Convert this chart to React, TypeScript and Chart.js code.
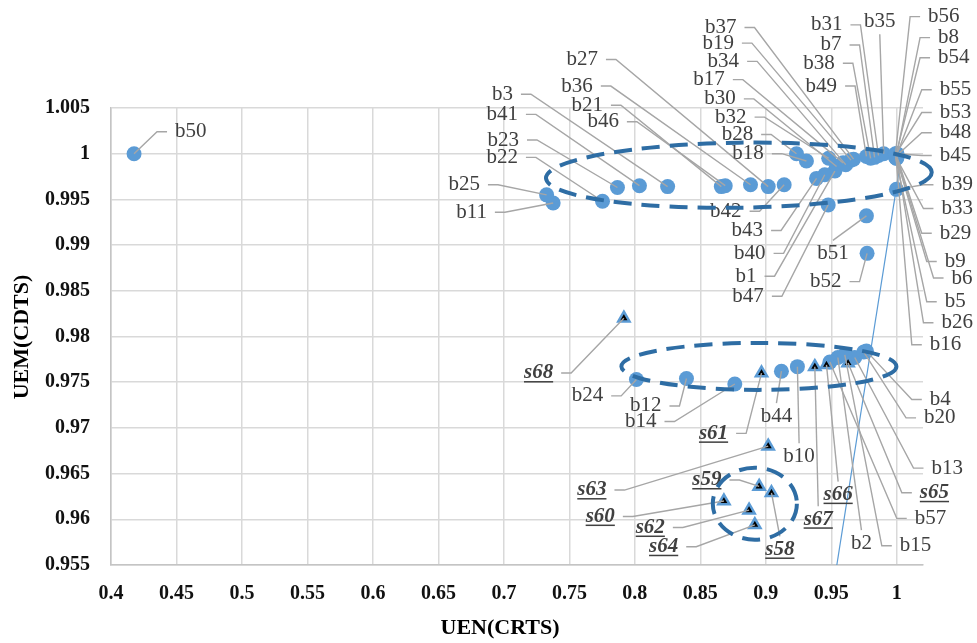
import React, { useEffect, useRef } from 'react';
import { Chart, registerables } from 'chart.js';

Chart.register(...registerables);

const FONT = "'Liberation Serif', 'Times New Roman', serif";

// ---- data ----
const X_TICKS = [0.4, 0.45, 0.5, 0.55, 0.6, 0.65, 0.7, 0.75, 0.8, 0.85, 0.9, 0.95, 1];
const Y_TICKS = [0.955, 0.96, 0.965, 0.97, 0.975, 0.98, 0.985, 0.99, 0.995, 1, 1.005];

const B_NAMES = ['b1','b2','b3','b4','b5','b6','b7','b8','b9','b10','b11','b12','b13','b14','b15','b16','b17','b18','b19','b20','b21','b22','b23','b24','b25','b26','b27','b28','b29','b30','b31','b32','b33','b34','b35','b36','b37','b38','b39','b40','b41','b42','b43','b44','b45','b46','b47','b48','b49','b50','b51','b52','b53','b54','b55','b56','b57'];
const B_X = [0.9527,0.955,0.825,0.9768,0.999,1.0,0.983,1.0,0.9995,0.9241,0.7376,0.8394,0.9679,0.8763,0.9603,0.9995,0.959,0.931,0.965,0.9748,0.866,0.7753,0.7867,0.8012,0.7326,1.0,0.9018,0.9234,1.0,0.954,0.986,0.948,0.999,0.961,0.99,0.8883,0.967,0.98,0.9997,0.945,0.8035,0.914,0.9387,0.9119,1.0,0.869,0.9476,1.0,0.9768,0.4176,0.9768,0.9773,0.9985,0.9995,1.0,0.999,0.9489];
const B_Y = [0.9981,0.9777,0.9964,0.9784,0.9996,0.9996,0.9996,1.0,0.9996,0.9767,0.9946,0.9754,0.9777,0.9748,0.978,0.9995,0.999,0.9992,0.9993,0.9783,0.9964,0.9948,0.9963,0.9753,0.9955,0.9995,0.9964,1.0,0.9997,0.9986,0.9998,0.9995,0.9997,0.9988,1.0,0.9966,0.9994,0.9995,0.9961,0.9977,0.9965,0.9966,0.9973,0.9762,1.0,0.9965,0.9944,0.9998,0.9997,1.0,0.9932,0.9891,0.9998,0.9999,0.9999,1.0,0.9772];

const S_NAMES = ['s58','s59','s60','s61','s62','s63','s64','s65','s66','s67','s68'];
const S_X = [0.9043,0.8949,0.868,0.8967,0.8872,0.9018,0.8916,0.9628,0.9463,0.9374,0.7916];
const S_Y = [0.9629,0.9636,0.962,0.976,0.961,0.968,0.9594,0.9771,0.9769,0.9767,0.982];

const TREND_X = [1.0038, 0.9542];
const TREND_Y = [1.0, 0.955];

// ---- annotation layout (label anchors in axis units; mode: R=text left of leader, L=text right of leader, T=leader from top, B=leader from bottom) ----
const LABELS: [string, number, number, string][] = [
  ['b50',0.4489,1.0024,'L'],
  ['b27',0.7718,1.0103,'R'],['b36',0.7679,1.0074,'R'],['b3',0.7069,1.0065,'R'],['b21',0.7756,1.0053,'R'],
  ['b41',0.7107,1.0043,'R'],['b46',0.7878,1.0035,'R'],['b23',0.7115,1.0015,'R'],['b22',0.7107,0.9996,'R'],
  ['b25',0.6817,0.9966,'R'],['b11',0.687,0.9936,'R'],
  ['b37',0.8776,1.0138,'R'],['b19',0.8756,1.0121,'R'],['b34',0.8796,1.0101,'R'],['b17',0.8687,1.0081,'R'],
  ['b30',0.8771,1.006,'R'],['b32',0.8853,1.004,'R'],['b28',0.8903,1.0021,'R'],['b18',0.8985,1.0,'R'],
  ['b31',0.9585,1.0141,'R'],['b7',0.9578,1.0119,'R'],['b38',0.9527,1.0099,'R'],['b49',0.9544,1.0074,'R'],
  ['b35',0.987,1.0145,'B'],
  ['b56',1.0239,1.015,'L'],['b8',1.0315,1.0127,'L'],['b54',1.0315,1.0105,'L'],['b55',1.0328,1.007,'L'],
  ['b53',1.0328,1.0045,'L'],['b48',1.0328,1.0023,'L'],['b45',1.0328,0.9998,'L'],['b39',1.0341,0.9966,'L'],
  ['b33',1.0341,0.994,'L'],['b29',1.0328,0.9913,'L'],['b9',1.0366,0.9882,'L'],['b6',1.0418,0.9864,'L'],
  ['b5',1.0366,0.9838,'L'],['b26',1.0341,0.9815,'L'],['b16',1.0252,0.9791,'L'],
  ['b42',0.8815,0.9937,'R'],['b43',0.8979,0.9916,'R'],['b40',0.8998,0.9891,'R'],['b1',0.8929,0.9866,'R'],
  ['b47',0.8985,0.9844,'R'],['b51',0.9512,0.9891,'T'],['b52',0.9578,0.986,'R'],
  ['s68',0.7376,0.976,'R'],['b24',0.7758,0.9735,'R'],['b12',0.8203,0.9724,'R'],['b14',0.8165,0.9707,'R'],
  ['s61',0.8712,0.9694,'R'],['b44',0.9081,0.9713,'T'],['b10',0.9254,0.9669,'T'],
  ['b4',1.0252,0.9731,'L'],['b20',1.0208,0.9711,'L'],['b13',1.0265,0.9656,'L'],['s65',1.0176,0.9629,'L'],
  ['b57',1.0137,0.9601,'L'],['b15',1.0023,0.9571,'L'],['b2',0.973,0.9574,'T'],['s66',0.9552,0.9627,'T'],
  ['s67',0.94,0.96,'T'],
  ['s63',0.7783,0.9632,'R'],['s60',0.7847,0.9603,'R'],['s62',0.8229,0.9591,'R'],['s64',0.8331,0.957,'R'],
  ['s59',0.8661,0.9643,'R'],['s58',0.9107,0.9567,'T'],
];

// dashed group ellipses: center x, center y, radius x, radius y (axis units), rotation
const ELLIPSES: [number, number, number, number, number][] = [
  [0.8794, 0.99765, 0.1473, 0.00356, -0.015],
  [0.8947, 0.97673, 0.105, 0.00257, 0],
  [0.8916, 0.96171, 0.0321, 0.00394, 0],
];

const annotate = {
  id: 'annotate',
  afterDatasetsDraw(chart: any) {
    const ctx = chart.ctx as CanvasRenderingContext2D;
    const xs = chart.scales.x;
    const ys = chart.scales.y;
    const pts = new Map<string, [number, number]>();
    B_NAMES.forEach((n, i) => pts.set(n, [xs.getPixelForValue(B_X[i]), ys.getPixelForValue(B_Y[i])]));
    S_NAMES.forEach((n, i) => pts.set(n, [xs.getPixelForValue(S_X[i]), ys.getPixelForValue(S_Y[i])]));
    ctx.save();
    ctx.strokeStyle = '#a6a6a6';
    ctx.lineWidth = 1.4;
    for (const [name, lx, ly, mode] of LABELS) {
      const p = pts.get(name);
      if (!p) continue;
      const ax = xs.getPixelForValue(lx);
      const ay = ys.getPixelForValue(ly);
      ctx.beginPath();
      if (mode === 'R') { ctx.moveTo(ax + 8, ay); ctx.lineTo(ax + 18, ay); }
      else if (mode === 'L') { ctx.moveTo(ax - 8, ay); ctx.lineTo(ax - 18, ay); }
      else if (mode === 'T') { ctx.moveTo(ax, ay - 13); }
      else { ctx.moveTo(ax, ay + 13); }
      ctx.lineTo(p[0], p[1]);
      ctx.stroke();
    }
    ctx.textBaseline = 'middle';
    for (const [name, lx, ly, mode] of LABELS) {
      const ax = xs.getPixelForValue(lx);
      const ay = ys.getPixelForValue(ly);
      const isS = name.startsWith('s');
      ctx.font = isS ? `italic bold 21px ${FONT}` : `21px ${FONT}`;
      ctx.fillStyle = '#404040';
      ctx.textAlign = mode === 'R' ? 'right' : mode === 'L' ? 'left' : 'center';
      ctx.fillText(name, ax, ay);
      if (isS) {
        const w = ctx.measureText(name).width;
        const x0 = mode === 'R' ? ax - w : mode === 'L' ? ax : ax - w / 2;
        ctx.fillRect(x0, ay + 8, w, 1.5);
      }
    }
    ctx.setLineDash([18, 10]);
    ctx.lineWidth = 4;
    ctx.strokeStyle = '#2e6da4';
    for (const [cx, cy, rx, ry, rot] of ELLIPSES) {
      const px = xs.getPixelForValue(cx);
      const py = ys.getPixelForValue(cy);
      const prx = Math.abs(xs.getPixelForValue(cx + rx) - px);
      const pry = Math.abs(ys.getPixelForValue(cy + ry) - py);
      ctx.beginPath();
      ctx.ellipse(px, py, prx, pry, rot, 0, Math.PI * 2);
      ctx.stroke();
    }
    ctx.restore();
  },
  afterDraw(chart: any) {
    const ctx = chart.ctx as CanvasRenderingContext2D;
    ctx.save();
    ctx.fillStyle = '#000';
    ctx.font = `bold 22px ${FONT}`;
    ctx.textAlign = 'center';
    ctx.textBaseline = 'middle';
    ctx.fillText('UEN(CRTS)', 500, 628);
    ctx.translate(22, 337);
    ctx.rotate(-Math.PI / 2);
    ctx.fillText('UEM(CDTS)', 0, 0);
    ctx.restore();
  },
};

export default function App() {
  const ref = useRef<HTMLCanvasElement>(null);
  useEffect(() => {
    const tickFont = { family: FONT, size: 20, weight: 'bold' as const };
    const chart = new Chart(ref.current!, {
      type: 'scatter',
      data: {
        datasets: [
          {
            label: 'trend',
            data: TREND_X.map((x, i) => ({ x, y: TREND_Y[i] })),
            showLine: true,
            borderColor: '#5b9bd5',
            borderWidth: 1.2,
            pointRadius: 0,
            order: 0,
          },
          {
            label: 's',
            data: S_X.map((x, i) => ({ x, y: S_Y[i] })),
            pointStyle: 'triangle',
            pointRadius: 6.5,
            backgroundColor: '#000',
            borderColor: '#5b9bd5',
            borderWidth: 2.5,
            order: 1,
          },
          {
            label: 'b',
            data: B_X.map((x, i) => ({ x, y: B_Y[i] })),
            pointStyle: 'circle',
            pointRadius: 7.5,
            backgroundColor: '#5b9bd5',
            borderWidth: 0,
            order: 2,
          },
        ],
      },
      options: {
        animation: false,
        responsive: true,
        maintainAspectRatio: false,
        layout: { padding: { left: 0, right: 54, top: 108, bottom: 0 } },
        plugins: { legend: { display: false }, tooltip: { enabled: false } },
        scales: {
          x: {
            type: 'linear',
            min: 0.4,
            max: 1.02,
            afterBuildTicks: (s: any) => { s.ticks = X_TICKS.map((v) => ({ value: v })); },
            afterFit: (s: any) => { s.height = 78; },
            ticks: {
              callback: (v: any) => String(+Number(v).toFixed(2)),
              font: tickFont,
              color: '#111',
              padding: 17,
              maxRotation: 0,
              autoSkip: false,
            },
            grid: { color: '#d9d9d9', lineWidth: 1.5, drawTicks: false },
            border: { color: '#c4c4c4', width: 1.5 },
          },
          y: {
            type: 'linear',
            min: 0.955,
            max: 1.005,
            afterBuildTicks: (s: any) => { s.ticks = Y_TICKS.map((v) => ({ value: v })); },
            afterFit: (s: any) => { s.width = 111; },
            ticks: {
              callback: (v: any) => String(+Number(v).toFixed(3)),
              font: tickFont,
              color: '#111',
              padding: 21,
              autoSkip: false,
            },
            grid: { color: '#d9d9d9', lineWidth: 1.5, drawTicks: false },
            border: { color: '#c4c4c4', width: 1.5 },
          },
        },
      },
      plugins: [annotate],
    });
    return () => chart.destroy();
  }, []);
  return (
    <div style={{ position: 'fixed', left: 0, top: 0, width: 977, height: 643, background: '#fff' }}>
      <canvas ref={ref} />
    </div>
  );
}
